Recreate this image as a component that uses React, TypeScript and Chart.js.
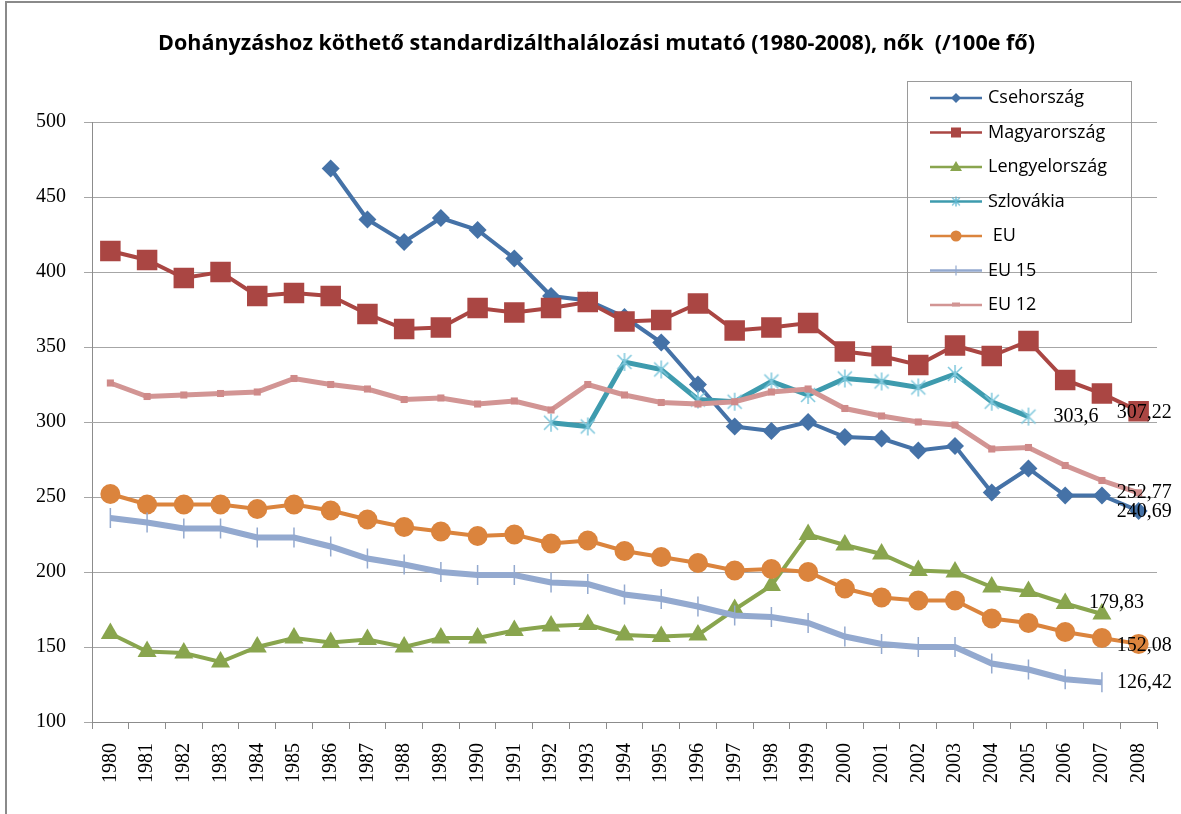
import React, { useEffect, useRef } from 'react';
import { Chart, registerables } from 'chart.js';

Chart.register(...registerables);

const years = ['1980','1981','1982','1983','1984','1985','1986','1987','1988','1989','1990','1991','1992','1993','1994','1995','1996','1997','1998','1999','2000','2001','2002','2003','2004','2005','2006','2007','2008'];

const seriesNames = ['Csehország', 'Magyarország', 'Lengyelország', 'Szlovákia', ' EU', 'EU 15', 'EU 12'];

const cseh = [null, null, null, null, null, null, 469, 435, 420, 436, 428, 409, 384, 381, 370, 353, 325, 297, 294, 300, 290, 289, 281, 284, 253, 269, 251, 251, 240.69];
const magyar = [414, 408, 396, 400, 384, 386, 384, 372, 362, 363, 376, 373, 376, 380, 367, 368, 379, 361, 363, 366, 347, 344, 338, 351, 344, 354, 328, 319, 307.22];
const lengyel = [159, 147, 146, 140, 150, 156, 153, 155, 150, 156, 156, 161, 164, 165, 158, 157, 158, 175, 191, 225, 218, 212, 201, 200, 190, 187, 179, 172, null];
const szlovakia = [null, null, null, null, null, null, null, null, null, null, null, null, 299.5, 297, 340, 335, 315, 313.5, 327, 318, 329, 327, 323, 332, 313.5, 303.6, null, null, null];
const eu = [252, 245, 245, 245, 242, 245, 241, 235, 230, 227, 224, 225, 219, 221, 214, 210, 206, 201, 202, 200, 189, 183, 181, 181, 169, 166, 160, 156, 152.08];
const eu15 = [236, 233, 229, 229, 223, 223, 217, 209, 205, 200, 198, 198, 193, 192, 185, 182, 177, 171, 170, 166, 157, 152, 150, 150, 139, 135, 128.5, 126.42, null];
const eu12 = [326, 317, 318, 319, 320, 329, 325, 322, 315, 316, 312, 314, 308, 325, 318, 313, 312, 313.5, 320, 322, 309, 304, 300, 298, 282, 283, 271, 261, 252.77];

const endLabels = ['240,69', '307,22', '179,83', '303,6', '152,08', '126,42', '252,77'];

const yTicks = [100, 150, 200, 250, 300, 350, 400, 450, 500];

const colors = ['#4572A7', '#AA4643', '#89A54E', '#3E9BAE', '#DB843D', '#93A9CF', '#D29594'];

const SERIF = '"Liberation Serif", "Times New Roman", serif';
const SANS = '"Liberation Sans Narrow", "Open Sans", "Noto Sans", sans-serif';

function makeStar(size: number, color: string, lw: number): HTMLCanvasElement {
  const c = document.createElement('canvas');
  c.width = size;
  c.height = size;
  const ctx = c.getContext('2d')!;
  ctx.strokeStyle = color;
  ctx.lineWidth = lw;
  const m = size / 2;
  const r = size / 2 - 1;
  const d = r * 0.78;
  ctx.beginPath();
  ctx.moveTo(m, m - r);
  ctx.lineTo(m, m + r);
  ctx.moveTo(m - d, m - d);
  ctx.lineTo(m + d, m + d);
  ctx.moveTo(m + d, m - d);
  ctx.lineTo(m - d, m + d);
  ctx.stroke();
  return c;
}

export default function App() {
  const ref = useRef<HTMLCanvasElement>(null);

  useEffect(() => {
    const star = makeStar(20, '#7FC8DD', 1.5);
    const starSmall = makeStar(12, '#5FB6D0', 1.3);

    const labelOffsets: [number, number][] = [
      [-22, 1], [-22, 2], [-13, -11], [25, 0], [-22, 2], [15, 0], [-22, 0],
    ];

    const endLabelPlugin = {
      id: 'endLabels',
      afterDatasetsDraw(chart: any) {
        const ctx = chart.ctx;
        ctx.save();
        ctx.font = `20px ${SERIF}`;
        ctx.fillStyle = '#000';
        ctx.textAlign = 'left';
        ctx.textBaseline = 'middle';
        chart.data.datasets.forEach((ds: any, i: number) => {
          const meta = chart.getDatasetMeta(i);
          let idx = -1;
          ds.data.forEach((v: any, k: number) => { if (v !== null) idx = k; });
          if (idx < 0) return;
          const el = meta.data[idx];
          const [dx, dy] = labelOffsets[i];
          ctx.fillText(endLabels[i], el.x + dx, el.y + dy);
        });
        ctx.restore();
      },
    };

    const legendPlugin = {
      id: 'boxLegend',
      afterDraw(chart: any) {
        const ctx = chart.ctx;
        ctx.save();
        ctx.strokeStyle = '#9a9a9a';
        ctx.lineWidth = 1;
        ctx.strokeRect(907.5, 81.5, 224, 241);
        chart.data.datasets.forEach((ds: any, i: number) => {
          const y = 98 + i * 34.5;
          const c = colors[i];
          ctx.strokeStyle = c;
          ctx.lineWidth = 2.5;
          ctx.beginPath();
          ctx.moveTo(930, y);
          ctx.lineTo(982, y);
          ctx.stroke();
          const mx = 956;
          ctx.fillStyle = c;
          ctx.beginPath();
          if (i === 0) {
            ctx.moveTo(mx, y - 5); ctx.lineTo(mx + 5, y); ctx.lineTo(mx, y + 5); ctx.lineTo(mx - 5, y); ctx.closePath(); ctx.fill();
          } else if (i === 1) {
            ctx.fillRect(mx - 5, y - 5, 10, 10);
          } else if (i === 2) {
            ctx.moveTo(mx, y - 6); ctx.lineTo(mx + 6, y + 4); ctx.lineTo(mx - 6, y + 4); ctx.closePath(); ctx.fill();
          } else if (i === 3) {
            ctx.drawImage(starSmall, mx - 6, y - 6);
          } else if (i === 4) {
            ctx.arc(mx, y, 5.5, 0, Math.PI * 2); ctx.fill();
          } else if (i === 5) {
            ctx.lineWidth = 1.2;
            ctx.moveTo(mx, y - 5); ctx.lineTo(mx, y + 5); ctx.stroke();
          } else {
            ctx.fillRect(mx - 4, y - 2.5, 8, 4);
          }
          ctx.fillStyle = '#000';
          ctx.font = `18px ${SANS}`;
          ctx.textAlign = 'left';
          ctx.textBaseline = 'middle';
          ctx.fillText(seriesNames[i], 988, y);
        });
        ctx.restore();
      },
    };

    const mk = (i: number, data: (number | null)[], extra: any) => ({
      label: seriesNames[i],
      data,
      borderColor: colors[i],
      backgroundColor: colors[i],
      pointBackgroundColor: colors[i],
      pointBorderColor: colors[i],
      borderWidth: 4,
      tension: 0,
      spanGaps: false,
      order: 7 - i,
      ...extra,
    });

    const chart = new Chart(ref.current!, {
      type: 'line',
      data: {
        labels: years,
        datasets: [
          mk(0, cseh, { pointStyle: 'rectRot', pointRadius: 9, pointBorderWidth: 0 }),
          mk(1, magyar, { pointStyle: 'rect', pointRadius: 14.5, pointBorderWidth: 0 }),
          mk(2, lengyel, { pointStyle: 'triangle', pointRadius: 11, pointBorderWidth: 0 }),
          mk(3, szlovakia, { pointStyle: star, pointRadius: 10, borderWidth: 5 }),
          mk(4, eu, { pointStyle: 'circle', pointRadius: 10, pointBorderWidth: 0 }),
          mk(5, eu15, { pointStyle: 'line', pointRotation: 90, pointRadius: 10, pointBorderWidth: 1.5, borderWidth: 6 }),
          mk(6, eu12, { pointStyle: 'rect', pointRadius: 5, pointBorderWidth: 0, borderWidth: 5, pointBackgroundColor: '#CF8A89' }),
        ],
      },
      options: {
        responsive: false,
        animation: false,
        events: [],
        layout: { padding: { left: 36, right: 24, top: 0, bottom: 0 } },
        plugins: {
          legend: { display: false },
          tooltip: { enabled: false },
          title: {
            display: true,
            text: 'Dohányzáshoz köthető standardizálthalálozási mutató (1980-2008), nők  (/100e fő)',
            color: '#000',
            font: { family: SANS, size: 21.5, weight: 'bold', lineHeight: 1.2 },
            padding: { top: 31, bottom: 65.2 },
          },
        },
        scales: {
          x: {
            type: 'category',
            offset: true,
            grid: {
              display: true,
              drawOnChartArea: false,
              drawTicks: true,
              tickLength: 7,
              offset: true,
              color: '#8c8c8c',
            },
            border: { display: true, color: '#8c8c8c', width: 1 },
            ticks: {
              autoSkip: false,
              maxRotation: 90,
              minRotation: 90,
              padding: 14,
              color: '#000',
              font: { family: SERIF, size: 20 },
            },
            afterFit: (scale: any) => { scale.height = 92; },
          },
          y: {
            min: 100,
            max: 500,
            afterBuildTicks: (scale: any) => { scale.ticks = yTicks.map((v) => ({ value: v })); },
            grid: { color: '#a6a6a6', lineWidth: 1, tickLength: 8, drawTicks: true },
            border: { display: true, color: '#8c8c8c', width: 1 },
            ticks: {
              padding: 18,
              color: '#000',
              font: { family: SERIF, size: 20 },
            },
            afterFit: (scale: any) => { scale.width = 56; },
          },
        },
      },
      plugins: [endLabelPlugin, legendPlugin],
    } as any);

    return () => chart.destroy();
  }, []);

  return (
    <div style={{ position: 'absolute', left: 0, top: 0, width: 1181, height: 814, overflow: 'hidden', background: '#fff' }}>
      <canvas ref={ref} width={1181} height={814} style={{ position: 'absolute', left: 0, top: 0 }} />
      <div
        style={{
          position: 'absolute',
          left: 5,
          top: 1,
          width: 1300,
          height: 900,
          borderLeft: '2px solid #8a8a8a',
          borderTop: '2px solid #8a8a8a',
          pointerEvents: 'none',
        }}
      />
    </div>
  );
}
